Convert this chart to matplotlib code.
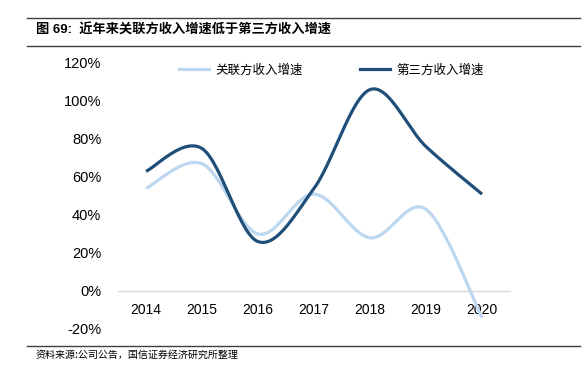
import numpy as np
import matplotlib
matplotlib.use("Agg")
import matplotlib.pyplot as plt
from matplotlib.lines import Line2D

plt.rcParams['font.family'] = ['Liberation Sans', 'Noto Sans CJK SC', 'DejaVu Sans']

years = [2014, 2015, 2016, 2017, 2018, 2019, 2020]
related = [0.54, 0.67, 0.30, 0.51, 0.28, 0.43, -0.14]
third = [0.63, 0.75, 0.26, 0.54, 1.06, 0.76, 0.51]
series_names = ['关联方收入增速', '第三方收入增速']
colors = ['#BDD7EE', '#1F4E79']


def smooth(x, y, n=30):
    # Catmull-Rom style smoothing like the office chart "smoothed line"
    x = np.asarray(x, float)
    y = np.asarray(y, float)
    px = np.concatenate([[x[0]], x, [x[-1]]])
    py = np.concatenate([[y[0]], y, [y[-1]]])
    xs, ys = [], []
    t = np.linspace(0, 1, n)
    for i in range(1, len(px) - 2):
        p0 = np.array([px[i], py[i]])
        p3 = np.array([px[i + 1], py[i + 1]])
        p1 = p0 + (np.array([px[i + 1], py[i + 1]]) - np.array([px[i - 1], py[i - 1]])) / 6
        p2 = p3 - (np.array([px[i + 2], py[i + 2]]) - np.array([px[i], py[i]])) / 6
        b = ((1 - t) ** 3)[:, None] * p0 + (3 * (1 - t) ** 2 * t)[:, None] * p1 \
            + (3 * (1 - t) * t ** 2)[:, None] * p2 + (t ** 3)[:, None] * p3
        xs.extend(b[:, 0])
        ys.extend(b[:, 1])
    return xs, ys


fig = plt.figure(figsize=(5.86, 3.74), dpi=100)
W, H = 586, 374
ax = fig.add_axes([118 / W, 1 - 329 / H, (510 - 118) / W, (329 - 63) / H])

for vals, c in zip([related, third], colors):
    sx, sy = smooth(years, vals)
    ax.plot(sx, sy, color=c, lw=2.3, solid_capstyle='butt')

ax.set_xlim(2013.5, 2020.5)
ax.set_ylim(-0.2, 1.2)
ax.set_yticks(np.arange(-0.2, 1.21, 0.2))
ax.set_yticklabels([f'{v:.0f}%' for v in np.arange(-20, 121, 20)], fontsize=10.5)
ax.set_xticks(years)
ax.set_xticklabels([str(y) for y in years], fontsize=10.5)
ax.tick_params(axis='both', length=0)
ax.tick_params(axis='y', pad=12)
ax.tick_params(axis='x', pad=9)
for s in ['top', 'right', 'left']:
    ax.spines[s].set_visible(False)
ax.spines['bottom'].set_position(('data', 0))
ax.spines['bottom'].set_color('#D9D9D9')
ax.spines['bottom'].set_linewidth(1.0)

handles = [Line2D([0], [0], color=c, lw=2.3) for c in colors]
ax.legend(handles, series_names, loc='upper center', bbox_to_anchor=(0.545, 1.04), ncol=2,
          frameon=False, handlelength=2.4, handletextpad=0.5, columnspacing=4.6,
          prop={'family': ['Noto Sans CJK SC'], 'size': 9})

# title and rules
fig.add_artist(Line2D([27 / W, 580 / W], [1 - 18 / H] * 2, color='#404040', lw=1.0))
fig.add_artist(Line2D([27 / W, 580 / W], [1 - 46 / H] * 2, color='#404040', lw=1.0))
fig.add_artist(Line2D([27 / W, 580 / W], [1 - 346 / H] * 2, color='#404040', lw=1.0))
fig.text(36 / W, 1 - 30 / H, '图 69:  近年来关联方收入增速低于第三方收入增速', fontsize=9.5,
         fontweight='bold', va='center', ha='left',
         family=['Liberation Sans', 'Noto Sans CJK SC'])
fig.text(36 / W, 1 - 355 / H, '资料来源:公司公告，国信证券经济研究所整理', fontsize=7.2,
         va='center', ha='left', family=['Noto Sans CJK SC'])

fig.savefig('out.png', dpi=100)
